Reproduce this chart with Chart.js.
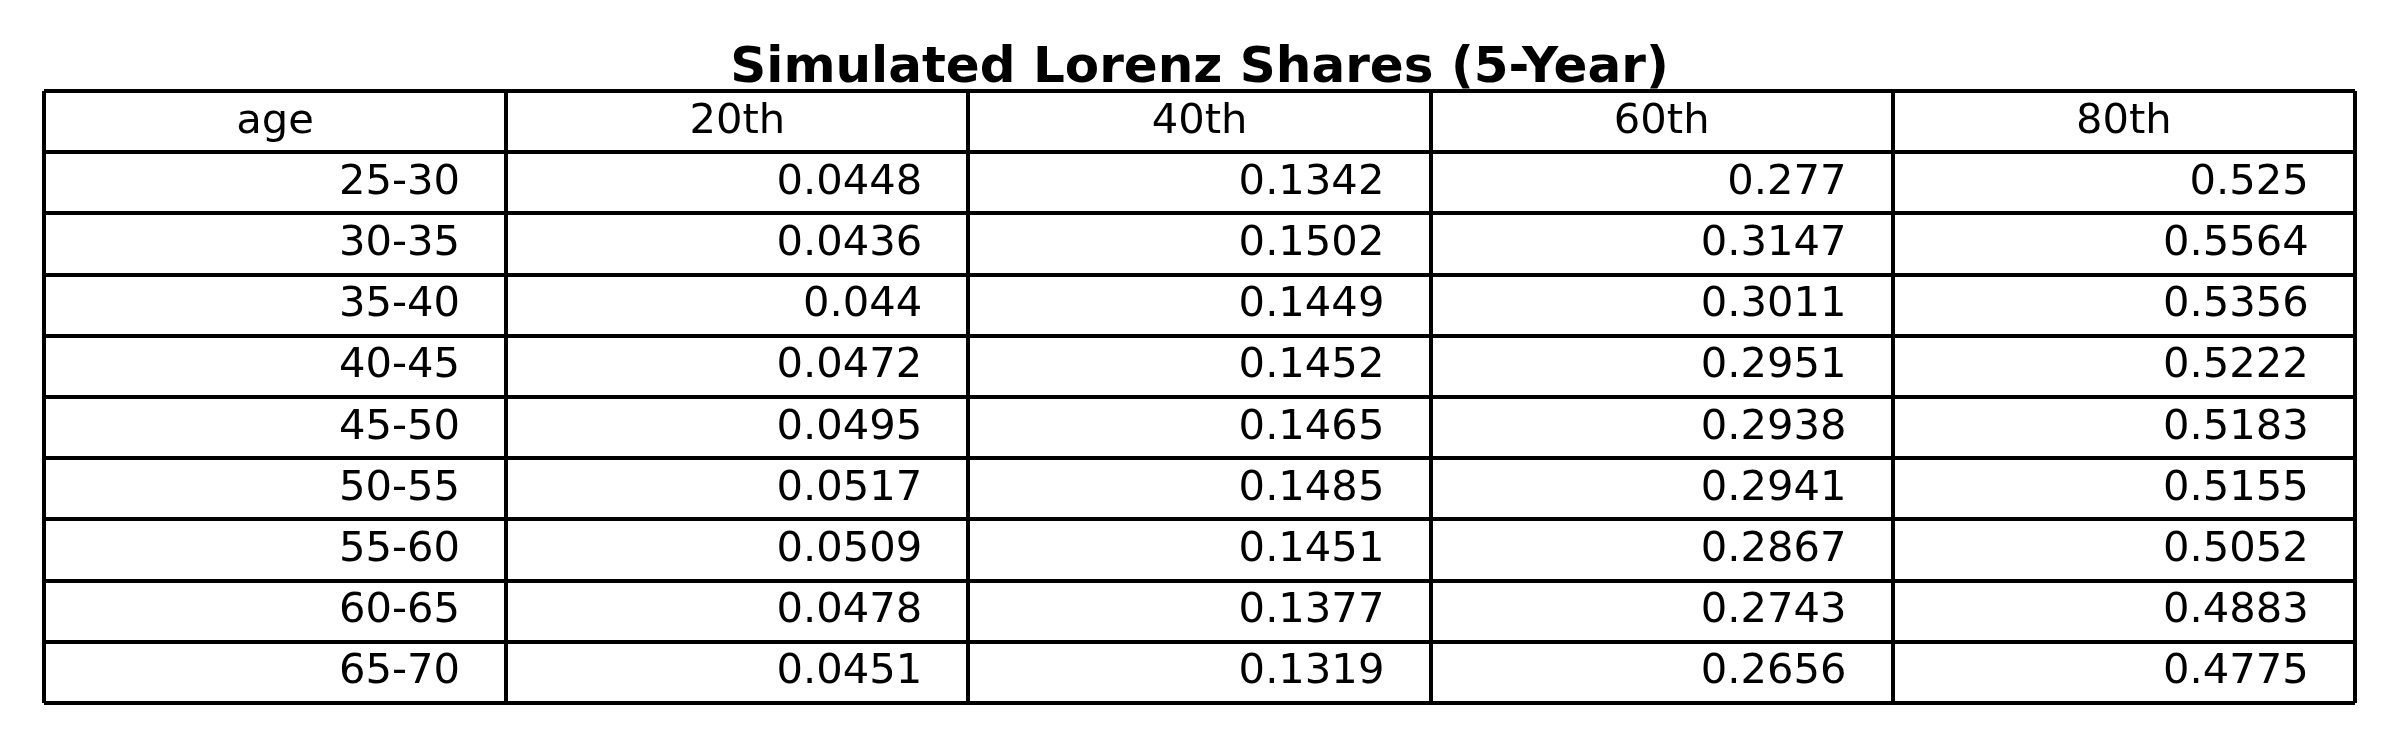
<!DOCTYPE html>
<html>
<head>
<meta charset="utf-8">
<title>Simulated Lorenz Shares (5-Year)</title>
<script src="https://cdn.jsdelivr.net/npm/chart.js@4.4.1/dist/chart.umd.min.js"></script>
<style>
  body { margin: 0; background: #fff; }
  canvas { display: block; }
</style>
</head>
<body>
<canvas id="lorenzTable" width="2400" height="750" style="width:2400px;height:750px"></canvas>
<script>
const columns = ['age', '20th', '40th', '60th', '80th']
const ageGroups = ['25-30', '30-35', '35-40', '40-45', '45-50', '50-55', '55-60', '60-65', '65-70']
const share20 = [0.0448, 0.0436, 0.044, 0.0472, 0.0495, 0.0517, 0.0509, 0.0478, 0.0451]
const share40 = [0.1342, 0.1502, 0.1449, 0.1452, 0.1465, 0.1485, 0.1451, 0.1377, 0.1319]
const share60 = [0.277, 0.3147, 0.3011, 0.2951, 0.2938, 0.2941, 0.2867, 0.2743, 0.2656]
const share80 = [0.525, 0.5564, 0.5356, 0.5222, 0.5183, 0.5155, 0.5052, 0.4883, 0.4775]

const cellFont = 41.67
const lineW = 4

// one point per cell, sitting at the cell centre (col + 0.5, row + 0.5)
const bodyCols = [ageGroups, share20, share40, share60, share80]
const cells = []
columns.forEach((name, c) => {
  cells.push({ x: c + 0.5, y: 0.5, text: name, header: true })
})
ageGroups.forEach((g, r) => {
  bodyCols.forEach((col, c) => {
    cells.push({ x: c + 0.5, y: r + 1.5, text: String(col[r]), header: false })
  })
})

const cellText = {
  id: 'cellText',
  afterDatasetsDraw(chart) {
    const ctx = chart.ctx
    const xs = chart.scales.x
    const meta = chart.getDatasetMeta(0)
    const cellW = xs.getPixelForValue(1) - xs.getPixelForValue(0)
    ctx.save()
    ctx.fillStyle = '#000'
    ctx.font = `${cellFont}px "DejaVu Sans"`
    ctx.textBaseline = 'alphabetic'
    meta.data.forEach((pt, i) => {
      const cell = cells[i]
      const y = pt.y + cellFont * 0.265
      if (cell.header) {
        ctx.textAlign = 'center'
        ctx.fillText(cell.text, pt.x, y)
      } else {
        // right aligned, with 10% of the cell width as padding
        ctx.textAlign = 'right'
        ctx.fillText(cell.text, pt.x + cellW / 2 - cellW * 0.1, y)
      }
    })
    ctx.restore()
  }
}

new Chart(document.getElementById('lorenzTable'), {
  type: 'scatter',
  data: {
    datasets: [{
      data: cells,
      pointRadius: 0,
      pointHoverRadius: 0
    }]
  },
  options: {
    responsive: false,
    devicePixelRatio: 1,
    animation: false,
    layout: { padding: { left: 44, right: 45, top: 0, bottom: 47 } },
    plugins: {
      legend: { display: false },
      tooltip: { enabled: false },
      title: {
        display: true,
        text: 'Simulated Lorenz Shares (5-Year)',
        color: '#000',
        font: { family: 'DejaVu Sans', size: 50, weight: 'bold', lineHeight: 1 },
        padding: { top: 44, bottom: -3 }
      }
    },
    scales: {
      x: {
        type: 'linear',
        min: 0,
        max: columns.length,
        ticks: { display: false, stepSize: 1 },
        grid: { color: '#000', lineWidth: lineW, drawTicks: false },
        border: { display: false }
      },
      y: {
        type: 'linear',
        reverse: true,
        min: 0,
        max: ageGroups.length + 1,
        ticks: { display: false, stepSize: 1 },
        grid: { color: '#000', lineWidth: lineW, drawTicks: false },
        border: { display: false }
      }
    }
  },
  plugins: [cellText]
})
</script>
</body>
</html>
